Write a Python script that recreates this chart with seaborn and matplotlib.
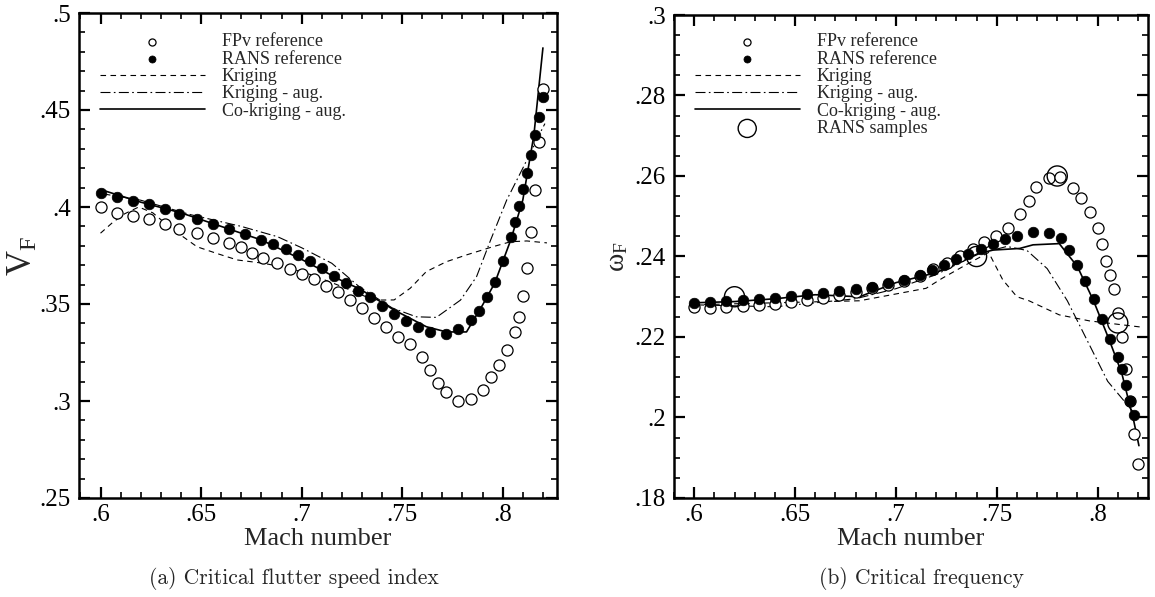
import numpy as np
import pandas as pd
import matplotlib
matplotlib.use("Agg")
import matplotlib.pyplot as plt
import seaborn as sns
from matplotlib.ticker import MultipleLocator

# ---------------- data: panel (a) critical flutter speed index ----------------
a_fpv_mach = [0.600, 0.608, 0.616, 0.624, 0.632, 0.639, 0.648, 0.656, 0.664, 0.670,
              0.6755, 0.681, 0.688, 0.694, 0.700, 0.706, 0.712, 0.718, 0.724, 0.730,
              0.736, 0.742, 0.748, 0.754, 0.760, 0.764, 0.768, 0.772, 0.778, 0.784,
              0.790, 0.794, 0.798, 0.802, 0.806, 0.808, 0.810, 0.812, 0.814, 0.816,
              0.818, 0.820]
a_fpv_val = [0.3998, 0.3971, 0.3954, 0.3937, 0.3912, 0.3887, 0.3864, 0.3840, 0.3816, 0.3792,
             0.3764, 0.3739, 0.3713, 0.3679, 0.3655, 0.3627, 0.3593, 0.3560, 0.3521, 0.3479,
             0.3426, 0.3380, 0.3331, 0.3294, 0.3225, 0.3160, 0.3093, 0.3045, 0.2998, 0.3012,
             0.3058, 0.3122, 0.3186, 0.3263, 0.3354, 0.3435, 0.3543, 0.3684, 0.3870, 0.4088,
             0.4337, 0.4607]
a_rans_mach = [0.600, 0.608, 0.616, 0.624, 0.632, 0.639, 0.648, 0.656, 0.664, 0.672,
               0.680, 0.686, 0.692, 0.698, 0.704, 0.710, 0.716, 0.722, 0.728, 0.734,
               0.740, 0.746, 0.752, 0.758, 0.764, 0.772, 0.778, 0.784, 0.788, 0.792,
               0.796, 0.800, 0.804, 0.806, 0.808, 0.810, 0.812, 0.814, 0.816, 0.818,
               0.820]
a_rans_val = [0.4071, 0.4053, 0.4032, 0.4015, 0.3988, 0.3964, 0.3940, 0.3914, 0.3887, 0.3859,
              0.3830, 0.3809, 0.3784, 0.3754, 0.3722, 0.3687, 0.3646, 0.3607, 0.3569, 0.3535,
              0.3490, 0.3450, 0.3411, 0.3381, 0.3356, 0.3347, 0.3373, 0.3418, 0.3465, 0.3535,
              0.3613, 0.3722, 0.3847, 0.3924, 0.4005, 0.4091, 0.4175, 0.4268, 0.4371, 0.4462,
              0.4565]
a_krig_mach = [0.600, 0.606, 0.612, 0.619, 0.626, 0.634, 0.641, 0.648, 0.658, 0.668,
               0.681, 0.694, 0.705, 0.720, 0.736, 0.746, 0.754, 0.762, 0.772, 0.782,
               0.795, 0.804, 0.812, 0.822]
a_krig_val = [0.3865, 0.3920, 0.3965, 0.4000, 0.3970, 0.3900, 0.3847, 0.3795, 0.3760, 0.3727,
              0.3710, 0.3684, 0.3650, 0.3590, 0.3520, 0.3521, 0.3581, 0.3667, 0.3718, 0.3753,
              0.3795, 0.3821, 0.3825, 0.3815]
a_krigaug_mach = [0.600, 0.620, 0.645, 0.670, 0.688, 0.700, 0.715, 0.729, 0.745, 0.757,
                  0.767, 0.779, 0.787, 0.794, 0.802, 0.810, 0.8195, 0.821]
a_krigaug_val = [0.4070, 0.4035, 0.3960, 0.3900, 0.3847, 0.3790, 0.3710, 0.3586, 0.3480, 0.3434,
                 0.3431, 0.3520, 0.3641, 0.3830, 0.4036, 0.4200, 0.4400, 0.4430]
a_cokrig_mach = [0.600, 0.620, 0.640, 0.660, 0.680, 0.700, 0.720, 0.729, 0.746, 0.762,
                 0.772, 0.782, 0.790, 0.796, 0.804, 0.810, 0.8155, 0.820]
a_cokrig_val = [0.4090, 0.4025, 0.3970, 0.3900, 0.3830, 0.3730, 0.3620, 0.3577, 0.3469, 0.3383,
                0.3356, 0.3356, 0.3495, 0.3607, 0.3830, 0.4036, 0.4370, 0.4820]

# ---------------- data: panel (b) critical frequency ----------------
b_fpv_mach = [0.600, 0.608, 0.616, 0.624, 0.632, 0.640, 0.648, 0.656, 0.664, 0.672,
              0.680, 0.688, 0.696, 0.704, 0.712, 0.7185, 0.7254, 0.7317, 0.738, 0.7436,
              0.7495, 0.7556, 0.7617, 0.766, 0.7697, 0.7759, 0.7815, 0.7878, 0.792, 0.796,
              0.800, 0.802, 0.804, 0.806, 0.808, 0.810, 0.812, 0.814, 0.816, 0.818, 0.820]
b_fpv_val = [0.2274, 0.2272, 0.2275, 0.2277, 0.2279, 0.2282, 0.2287, 0.2292, 0.2298, 0.2305,
             0.2313, 0.2322, 0.2330, 0.2340, 0.2352, 0.2369, 0.2383, 0.2400, 0.2418, 0.2437,
             0.2451, 0.2470, 0.2505, 0.2539, 0.2573, 0.2596, 0.2598, 0.2571, 0.2545, 0.2510,
             0.2470, 0.2430, 0.2390, 0.2355, 0.2320, 0.2260, 0.2200, 0.2120, 0.2040, 0.1960,
             0.1885]
b_rans_mach = [0.600, 0.608, 0.616, 0.624, 0.632, 0.640, 0.648, 0.656, 0.664, 0.672,
               0.680, 0.688, 0.696, 0.704, 0.712, 0.718, 0.724, 0.730, 0.736, 0.742,
               0.748, 0.754, 0.760, 0.768, 0.776, 0.782, 0.786, 0.790, 0.794, 0.798,
               0.802, 0.806, 0.810, 0.812, 0.814, 0.816, 0.818]
b_rans_val = [0.2285, 0.2287, 0.2289, 0.2292, 0.2295, 0.2298, 0.2302, 0.2306, 0.2310, 0.2315,
              0.2320, 0.2325, 0.2333, 0.2342, 0.2353, 0.2366, 0.2380, 0.2393, 0.2405, 0.2418,
              0.2432, 0.2443, 0.2452, 0.2460, 0.2458, 0.2445, 0.2415, 0.2380, 0.2340, 0.2295,
              0.2245, 0.2195, 0.2150, 0.2120, 0.2080, 0.2040, 0.2005]
b_krig_mach = [0.600, 0.640, 0.682, 0.715, 0.723, 0.735, 0.746, 0.753, 0.760, 0.766,
               0.781, 0.796, 0.821]
b_krig_val = [0.2280, 0.2285, 0.2290, 0.2321, 0.2346, 0.2380, 0.2410, 0.2342, 0.2300, 0.2290,
              0.2255, 0.2240, 0.2225]
b_krigaug_mach = [0.600, 0.640, 0.680, 0.700, 0.720, 0.740, 0.755, 0.765, 0.775, 0.785,
                  0.795, 0.805, 0.815, 0.820]
b_krigaug_val = [0.2280, 0.2275, 0.2295, 0.2320, 0.2355, 0.2405, 0.2425, 0.2415, 0.2370, 0.2290,
                 0.2190, 0.2090, 0.2030, 0.2000]
b_cokrig_mach = [0.600, 0.620, 0.640, 0.660, 0.682, 0.700, 0.720, 0.7416, 0.7482, 0.7614,
                 0.768, 0.781, 0.790, 0.798, 0.806, 0.812, 0.818, 0.8205]
b_cokrig_val = [0.2285, 0.2288, 0.2295, 0.2305, 0.2300, 0.2335, 0.2360, 0.2408, 0.2416, 0.2420,
                0.2429, 0.2432, 0.2375, 0.2290, 0.2190, 0.2110, 0.1990, 0.1930]
b_sample_mach = [0.62, 0.74, 0.78, 0.81]
b_sample_val = [0.230, 0.240, 0.260, 0.2235]

# ---------------- ticks / labels ----------------
x_ticks = [0.6, 0.65, 0.7, 0.75, 0.8]
x_tick_labels = [".6", ".65", ".7", ".75", ".8"]
a_y_ticks = [0.25, 0.3, 0.35, 0.4, 0.45, 0.5]
a_y_tick_labels = [".25", ".3", ".35", ".4", ".45", ".5"]
b_y_ticks = [0.18, 0.2, 0.22, 0.24, 0.26, 0.28, 0.3]
b_y_tick_labels = [".18", ".2", ".22", ".24", ".26", ".28", ".3"]
series_labels = ["FPv reference", "RANS reference", "Kriging", "Kriging - aug.",
                 "Co-kriging - aug.", "RANS samples"]
xlabel = "Mach number"
ylabels = ["V$_\\mathrm{F}$", "ω$_\\mathrm{F}$"]
captions = ["(a) Critical flutter speed index", "(b) Critical frequency"]

# ---------------- style ----------------
sns.set_theme(style="ticks")
plt.rcParams["font.family"] = ["Liberation Serif", "DejaVu Serif"]
plt.rcParams["mathtext.fontset"] = "custom"
plt.rcParams["mathtext.rm"] = "Liberation Serif"
plt.rcParams["mathtext.it"] = "Liberation Serif:italic"

fig = plt.figure(figsize=(11.55, 5.97), dpi=100)
ax_a = fig.add_axes([79 / 1155, 99 / 597, 478 / 1155, 485 / 597])
ax_b = fig.add_axes([674 / 1155, 99 / 597, 474 / 1155, 483 / 597])

DASH = (0, (5, 4))
DASHDOT = (0, (9, 3, 1.5, 3))


def draw_panel(ax, fpv_m, fpv_v, rans_m, rans_v, kr_m, kr_v, ka_m, ka_v, ck_m, ck_v,
               samp_m=None, samp_v=None):
    sns.scatterplot(x=fpv_m, y=fpv_v, ax=ax, marker="o", s=64, facecolor="white",
                    edgecolor="black", linewidth=0.9, label=series_labels[0], zorder=3)
    sns.scatterplot(x=rans_m, y=rans_v, ax=ax, marker="o", s=58, color="black",
                    edgecolor="black", linewidth=0.5, label=series_labels[1], zorder=3)
    sns.lineplot(x=kr_m, y=kr_v, ax=ax, sort=False, estimator=None, color="black",
                 linewidth=0.8, linestyle=DASH, label=series_labels[2], zorder=2)
    sns.lineplot(x=ka_m, y=ka_v, ax=ax, sort=False, estimator=None, color="black",
                 linewidth=0.8, linestyle=DASHDOT, label=series_labels[3], zorder=2)
    sns.lineplot(x=ck_m, y=ck_v, ax=ax, sort=False, estimator=None, color="black",
                 linewidth=1.2, linestyle="-", label=series_labels[4], zorder=2)
    if samp_m is not None:
        sns.scatterplot(x=samp_m, y=samp_v, ax=ax, marker="o", s=210, facecolor="none",
                        edgecolor="black", linewidth=1.0, label=series_labels[5], zorder=4)


draw_panel(ax_a, a_fpv_mach, a_fpv_val, a_rans_mach, a_rans_val, a_krig_mach, a_krig_val,
           a_krigaug_mach, a_krigaug_val, a_cokrig_mach, a_cokrig_val)
draw_panel(ax_b, b_fpv_mach, b_fpv_val, b_rans_mach, b_rans_val, b_krig_mach, b_krig_val,
           b_krigaug_mach, b_krigaug_val, b_cokrig_mach, b_cokrig_val,
           b_sample_mach, b_sample_val)

for ax, yt, ytl, ylim, yminor in [
        (ax_a, a_y_ticks, a_y_tick_labels, (0.25, 0.5), 0.01),
        (ax_b, b_y_ticks, b_y_tick_labels, (0.18, 0.3), 0.005)]:
    ax.set_xlim(0.5893, 0.827)
    ax.set_ylim(*ylim)
    ax.set_xticks(x_ticks)
    ax.set_xticklabels(x_tick_labels)
    ax.set_yticks(yt)
    ax.set_yticklabels(ytl)
    ax.xaxis.set_minor_locator(MultipleLocator(0.01))
    ax.yaxis.set_minor_locator(MultipleLocator(yminor))
    ax.tick_params(which="both", direction="in", top=True, right=True, colors="black",
                   labelsize=18)
    ax.tick_params(axis="x", pad=4)
    ax.tick_params(axis="y", pad=6)
    ax.tick_params(which="major", length=8, width=1.6)
    ax.tick_params(which="minor", length=4, width=1.2)
    for sp in ax.spines.values():
        sp.set_linewidth(1.8)
        sp.set_color("black")
    ax.set_xlabel(xlabel, fontsize=19, labelpad=2)

ax_b.set_xlim(0.590, 0.825)

ax_a.set_ylabel(ylabels[0], fontsize=25)
ax_a.yaxis.set_label_coords(-0.082, 0.5)
ax_b.set_ylabel(ylabels[1], fontsize=20)
ax_b.yaxis.set_label_coords(-0.093, 0.5)

# captions
fig.text(294 / 1155, 1 - 579 / 597, captions[0], ha="center", va="center",
         fontsize=15.5, family="cmr10")
fig.text(921 / 1155, 1 - 579 / 597, captions[1], ha="center", va="center",
         fontsize=15.5, family="cmr10")


def make_legend(ax, anchor):
    handles, labels = ax.get_legend_handles_labels()
    order = [labels.index(l) for l in series_labels if l in labels]
    leg = ax.legend([handles[i] for i in order], [labels[i] for i in order],
                    loc="upper left", bbox_to_anchor=anchor, frameon=False,
                    fontsize=13, handlelength=5.8, handletextpad=0.95,
                    labelspacing=0.02, borderaxespad=0, borderpad=0)
    for h, lab in zip(leg.legend_handles, [labels[i] for i in order]):
        if lab == series_labels[5]:
            h.set_sizes([170])
        elif lab in series_labels[:2]:
            h.set_sizes([26])
    return leg


make_legend(ax_a, (0.044, 0.958))
make_legend(ax_b, (0.044, 0.962))

fig.savefig("out.png", dpi=100)
